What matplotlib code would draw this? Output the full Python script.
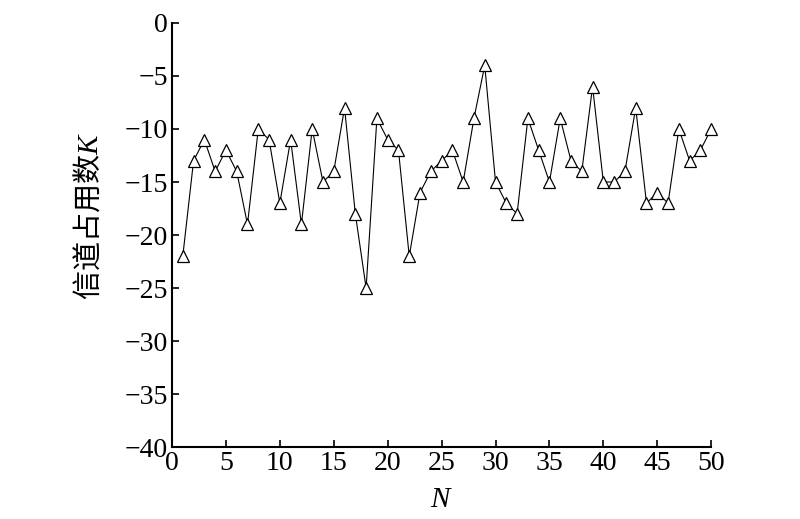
import matplotlib
matplotlib.use("Agg")
import matplotlib.pyplot as plt

N = list(range(1, 51))
K = [-22, -13, -11, -14, -12, -14, -19, -10, -11, -17,
     -11, -19, -10, -15, -14, -8, -18, -25, -9, -11,
     -12, -22, -16, -14, -13, -12, -15, -9, -4, -15,
     -17, -18, -9, -12, -15, -9, -13, -14, -6, -15,
     -15, -14, -8, -17, -16, -17, -10, -13, -12, -10]
xticks = list(range(0, 51, 5))
yticks = list(range(-40, 1, 5))

plt.rcParams['mathtext.fontset'] = 'custom'
plt.rcParams['mathtext.it'] = 'Liberation Serif:italic'
plt.rcParams['mathtext.rm'] = 'Liberation Serif'
plt.rcParams['font.family'] = ['Liberation Serif', 'Noto Sans CJK SC']
plt.rcParams['axes.unicode_minus'] = True

fig = plt.figure(figsize=(8, 5.19), dpi=100)
ax = fig.add_axes([0.215, 0.1387, 0.674, 0.817])
ax.plot(N, K, color='black', lw=0.8, marker='^', ms=9, mfc='white', mec='black', mew=0.9,
        clip_on=False, zorder=3)
ax.set_xlim(0, 50)
ax.set_ylim(-40, 0)
ax.set_xticks(xticks)
ax.set_yticks(yticks)
for s in ['top', 'right']:
    ax.spines[s].set_visible(False)
for s in ['left', 'bottom']:
    ax.spines[s].set_linewidth(1.5)
ax.tick_params(direction='in', length=5, width=1.2, labelsize=20, pad=3)
ax.set_xlabel('$N$', fontsize=21)
ax.xaxis.set_label_coords(0.5, -0.095)
ax.set_ylabel('信道占用数$K$', fontsize=21, family=['Noto Sans CJK SC', 'Liberation Serif'])
ax.yaxis.set_label_coords(-0.125, 0.545)
fig.savefig('out.png', dpi=100)
